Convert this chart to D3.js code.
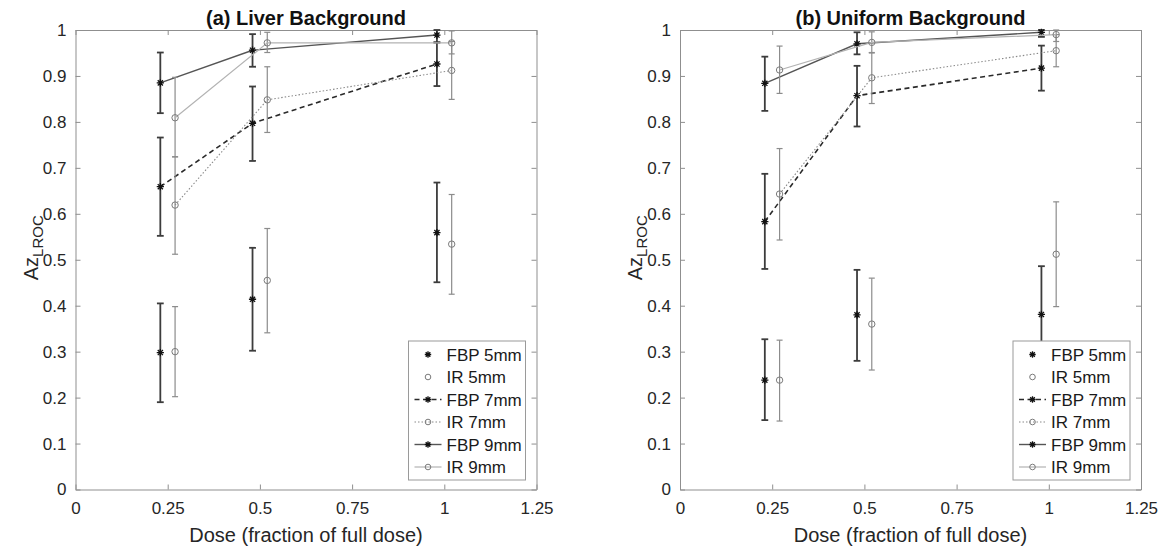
<!DOCTYPE html>
<html>
<head>
<meta charset="utf-8">
<script src="https://cdn.jsdelivr.net/npm/d3@7"></script>
<style>
  body { margin: 0; background: #fff; }
  svg { display: block; font-family: "Liberation Sans", Arial, sans-serif; }
</style>
</head>
<body>
<svg id="chart" width="1170" height="550"></svg>
<script>
// Dose levels (FBP and IR are drawn slightly apart around each nominal dose)
const doseFBP = [0.23, 0.48, 0.98];
const doseIR  = [0.27, 0.52, 1.02];

const xTicks = [0, 0.25, 0.5, 0.75, 1, 1.25];
const xTickLabels = ["0", "0.25", "0.5", "0.75", "1", "1.25"];
const yTicks = [0, 0.1, 0.2, 0.3, 0.4, 0.5, 0.6, 0.7, 0.8, 0.9, 1];
const yTickLabels = ["0", "0.1", "0.2", "0.3", "0.4", "0.5", "0.6", "0.7", "0.8", "0.9", "1"];

const seriesNames = ["FBP 5mm", "IR 5mm", "FBP 7mm", "IR 7mm", "FBP 9mm", "IR 9mm"];
const panelTitles = ["(a) Liver Background", "(b) Uniform Background"];
const xLabel = "Dose (fraction of full dose)";

// Liver background: Az(LROC) with lower / upper error limits
const liverFBP5   = [0.298, 0.414, 0.559];
const liverFBP5Lo = [0.190, 0.302, 0.451];
const liverFBP5Hi = [0.405, 0.526, 0.668];
const liverIR5    = [0.300, 0.455, 0.534];
const liverIR5Lo  = [0.202, 0.341, 0.425];
const liverIR5Hi  = [0.398, 0.568, 0.642];
const liverFBP7   = [0.659, 0.797, 0.926];
const liverFBP7Lo = [0.552, 0.715, 0.878];
const liverFBP7Hi = [0.766, 0.877, 0.973];
const liverIR7    = [0.619, 0.848, 0.912];
const liverIR7Lo  = [0.512, 0.777, 0.849];
const liverIR7Hi  = [0.724, 0.920, 0.975];
const liverFBP9   = [0.885, 0.956, 0.989];
const liverFBP9Lo = [0.819, 0.920, 0.973];
const liverFBP9Hi = [0.951, 0.991, 1.000];
const liverIR9    = [0.809, 0.972, 0.972];
const liverIR9Lo  = [0.724, 0.951, 0.948];
const liverIR9Hi  = [0.897, 0.995, 0.998];

// Uniform background
const unifFBP5   = [0.238, 0.380, 0.381];
const unifFBP5Lo = [0.151, 0.280, 0.276];
const unifFBP5Hi = [0.327, 0.478, 0.486];
const unifIR5    = [0.238, 0.360, 0.512];
const unifIR5Lo  = [0.149, 0.260, 0.398];
const unifIR5Hi  = [0.325, 0.460, 0.626];
const unifFBP7   = [0.583, 0.857, 0.917];
const unifFBP7Lo = [0.480, 0.790, 0.868];
const unifFBP7Hi = [0.687, 0.922, 0.966];
const unifIR7    = [0.643, 0.896, 0.955];
const unifIR7Lo  = [0.543, 0.840, 0.920];
const unifIR7Hi  = [0.742, 0.950, 0.990];
const unifFBP9   = [0.884, 0.970, 0.995];
const unifFBP9Lo = [0.824, 0.947, 0.985];
const unifFBP9Hi = [0.942, 0.995, 1.000];
const unifIR9    = [0.913, 0.973, 0.990];
const unifIR9Lo  = [0.862, 0.951, 0.975];
const unifIR9Hi  = [0.965, 0.996, 1.000];

// Visual style per series (same order as seriesNames)
const styles = [
  { fbp: true,  line: null },
  { fbp: false, line: null },
  { fbp: true,  line: { color: "#2a2a2a", width: 1.6, dash: "5,3.5" } },
  { fbp: false, line: { color: "#8a8a8a", width: 1.1, dash: "1.5,2" } },
  { fbp: true,  line: { color: "#555555", width: 1.4, dash: null } },
  { fbp: false, line: { color: "#b3b3b3", width: 1.2, dash: null } }
];

const panels = [
  { title: panelTitles[0], left: 75.5, values: [
      [liverFBP5, liverFBP5Lo, liverFBP5Hi], [liverIR5, liverIR5Lo, liverIR5Hi],
      [liverFBP7, liverFBP7Lo, liverFBP7Hi], [liverIR7, liverIR7Lo, liverIR7Hi],
      [liverFBP9, liverFBP9Lo, liverFBP9Hi], [liverIR9, liverIR9Lo, liverIR9Hi]] },
  { title: panelTitles[1], left: 680, values: [
      [unifFBP5, unifFBP5Lo, unifFBP5Hi], [unifIR5, unifIR5Lo, unifIR5Hi],
      [unifFBP7, unifFBP7Lo, unifFBP7Hi], [unifIR7, unifIR7Lo, unifIR7Hi],
      [unifFBP9, unifFBP9Lo, unifFBP9Hi], [unifIR9, unifIR9Lo, unifIR9Hi]] }
];

const svg = d3.select("#chart");
const plotW = 461, plotTop = 30, plotBottom = 489.5;
const axisColor = "#8f8f8f", textColor = "#262626";

function starPath(s) {
  const d = s * 0.72;
  return `M${-s},0L${s},0M0,${-s}L0,${s}M${-d},${-d}L${d},${d}M${-d},${d}L${d},${-d}`;
}

function drawMarker(sel, cx, cy, fbp, big) {
  if (fbp) {
    sel.append("path").attr("transform", `translate(${cx},${cy})`)
      .attr("d", starPath(big ? 3.6 : 3.2))
      .attr("stroke", "#111").attr("stroke-width", 1.3).attr("fill", "none");
  } else {
    sel.append("circle").attr("cx", cx).attr("cy", cy).attr("r", big ? 3.2 : 2.8)
      .attr("stroke", "#7a7a7a").attr("stroke-width", 1).attr("fill", "none");
  }
}

panels.forEach(p => {
  const x = d3.scaleLinear().domain([0, 1.25]).range([p.left, p.left + plotW]);
  const y = d3.scaleLinear().domain([0, 1]).range([plotBottom, plotTop]);
  const g = svg.append("g");

  // axes (box with inward ticks on all four sides)
  const styleAxis = a => {
    a.select(".domain").attr("stroke", axisColor).attr("stroke-width", 1);
    a.selectAll(".tick line").attr("stroke", axisColor).attr("stroke-width", 1);
    a.selectAll(".tick text").attr("fill", textColor).attr("font-size", 17)
      .attr("font-family", "Liberation Sans, Arial, sans-serif");
  };
  g.append("g").attr("transform", `translate(0,${plotBottom})`)
    .call(d3.axisBottom(x).tickValues(xTicks).tickFormat((d, i) => xTickLabels[i])
      .tickSizeInner(-5).tickSizeOuter(0).tickPadding(12)).call(styleAxis);
  g.append("g").attr("transform", `translate(0,${plotTop})`)
    .call(d3.axisTop(x).tickValues(xTicks).tickFormat("")
      .tickSizeInner(-5).tickSizeOuter(0)).call(styleAxis);
  g.append("g").attr("transform", `translate(${p.left},0)`)
    .call(d3.axisLeft(y).tickValues(yTicks).tickFormat((d, i) => yTickLabels[i])
      .tickSizeInner(-5).tickSizeOuter(0).tickPadding(9)).call(styleAxis);
  g.append("g").attr("transform", `translate(${p.left + plotW},0)`)
    .call(d3.axisRight(y).tickValues(yTicks).tickFormat("")
      .tickSizeInner(-5).tickSizeOuter(0)).call(styleAxis);

  // title and axis labels
  g.append("text").attr("x", p.left + plotW / 2).attr("y", 25)
    .attr("text-anchor", "middle").attr("font-size", 20).attr("font-weight", "bold")
    .attr("fill", "#111").text(p.title);
  g.append("text").attr("x", p.left + plotW / 2).attr("y", 542)
    .attr("text-anchor", "middle").attr("font-size", 20).attr("fill", textColor).text(xLabel);
  const yl = g.append("text").attr("transform", "rotate(-90)")
    .attr("x", -(plotTop + plotBottom) / 2 + 12).attr("y", p.left - 38)
    .attr("text-anchor", "middle").attr("font-size", 20).attr("fill", textColor);
  yl.append("tspan").text("Az");
  yl.append("tspan").attr("font-size", 15).attr("dy", 5).text("LROC");

  // series: error bars, connecting lines, markers
  p.values.forEach((v, si) => {
    const st = styles[si];
    const xs = st.fbp ? doseFBP : doseIR;
    const sg = g.append("g");
    const barColor = st.fbp ? "#3c3c3c" : "#8c8c8c";
    const barW = st.fbp ? 1.8 : 1.2;
    const cap = st.fbp ? 3.4 : 3.0;
    xs.forEach((d, i) => {
      const cx = x(d);
      sg.append("line").attr("x1", cx).attr("x2", cx)
        .attr("y1", y(v[1][i])).attr("y2", y(v[2][i]))
        .attr("stroke", barColor).attr("stroke-width", barW);
      [v[1][i], v[2][i]].forEach(e => {
        sg.append("line").attr("x1", cx - cap).attr("x2", cx + cap)
          .attr("y1", y(e)).attr("y2", y(e))
          .attr("stroke", barColor).attr("stroke-width", barW);
      });
    });
    if (st.line) {
      const line = d3.line().x((d, i) => x(xs[i])).y(d => y(d));
      sg.append("path").attr("d", line(v[0])).attr("fill", "none")
        .attr("stroke", st.line.color).attr("stroke-width", st.line.width)
        .attr("stroke-dasharray", st.line.dash);
    }
    xs.forEach((d, i) => drawMarker(sg, x(d), y(v[0][i]), st.fbp, true));
  });

  // legend
  const lw = 117, lh = 139;
  const lx = p.left + plotW - 11 - lw, ly = 341;
  const lg = g.append("g");
  lg.append("rect").attr("x", lx).attr("y", ly).attr("width", lw).attr("height", lh)
    .attr("fill", "#fff").attr("stroke", "#9a9a9a").attr("stroke-width", 1);
  seriesNames.forEach((name, i) => {
    const st = styles[i];
    const cy = ly + 13.5 + i * 22.5;
    if (st.line) {
      lg.append("line").attr("x1", lx + 6).attr("x2", lx + 33).attr("y1", cy).attr("y2", cy)
        .attr("stroke", st.line.color).attr("stroke-width", st.line.width)
        .attr("stroke-dasharray", st.line.dash);
    }
    drawMarker(lg, lx + 19.5, cy, st.fbp, false);
    lg.append("text").attr("x", lx + 38).attr("y", cy).attr("dy", "0.36em")
      .attr("font-size", 17).attr("fill", "#1a1a1a").text(name);
  });
});
</script>
</body>
</html>
